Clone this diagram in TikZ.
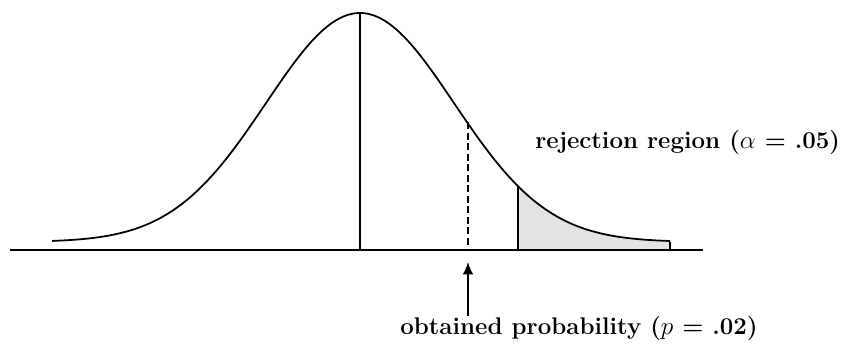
\documentclass[tikz,border=0pt]{standalone}
\usepackage{amsmath}
\usepackage{tikz}
\usetikzlibrary{arrows.meta}

\begin{document}
\begin{tikzpicture}[x=0.02cm, y=-0.02cm]
\useasboundingbox (0,0) rectangle (841,348);
\tikzset{curve/.style={line width=1pt},
         lbl/.style={font=\fontsize{13.7}{15}\selectfont\bfseries, inner sep=0pt}}
% shaded tail
\fill [gray!22] (518,250) -- plot[domain=518:670, samples=40] (\x, {242 - 229*exp(-((\x-360)/94)^2/2)}) -- (670,250) -- cycle;
% axis and curve
\draw [line width=0.9pt] (10,250) -- (703,250);
\draw [curve] plot[domain=52:670, samples=120] (\x, {242 - 229*exp(-((\x-360)/94)^2/2)});
\draw [curve] (670,242) -- (670,250);
% mean, obtained value and critical value
\draw [curve] (360,13) -- (360,250);
\draw [curve, dash pattern=on 4pt off 2pt] (468,122) -- (468,250);
\draw [curve] (518,187) -- (518,250);
\node [lbl, anchor=west] (rej) at (535,142) {rejection region ($\alpha$ = .05)};
\node [lbl, anchor=west] (obt) at (400,328) {obtained probability ($p$ = .02)};
\coordinate (pv) at (468,262);
\draw [line width=1pt, -{Latex[length=7pt,width=6pt]}] (obt.north -| pv) -- (pv);
\end{tikzpicture}
\end{document}
